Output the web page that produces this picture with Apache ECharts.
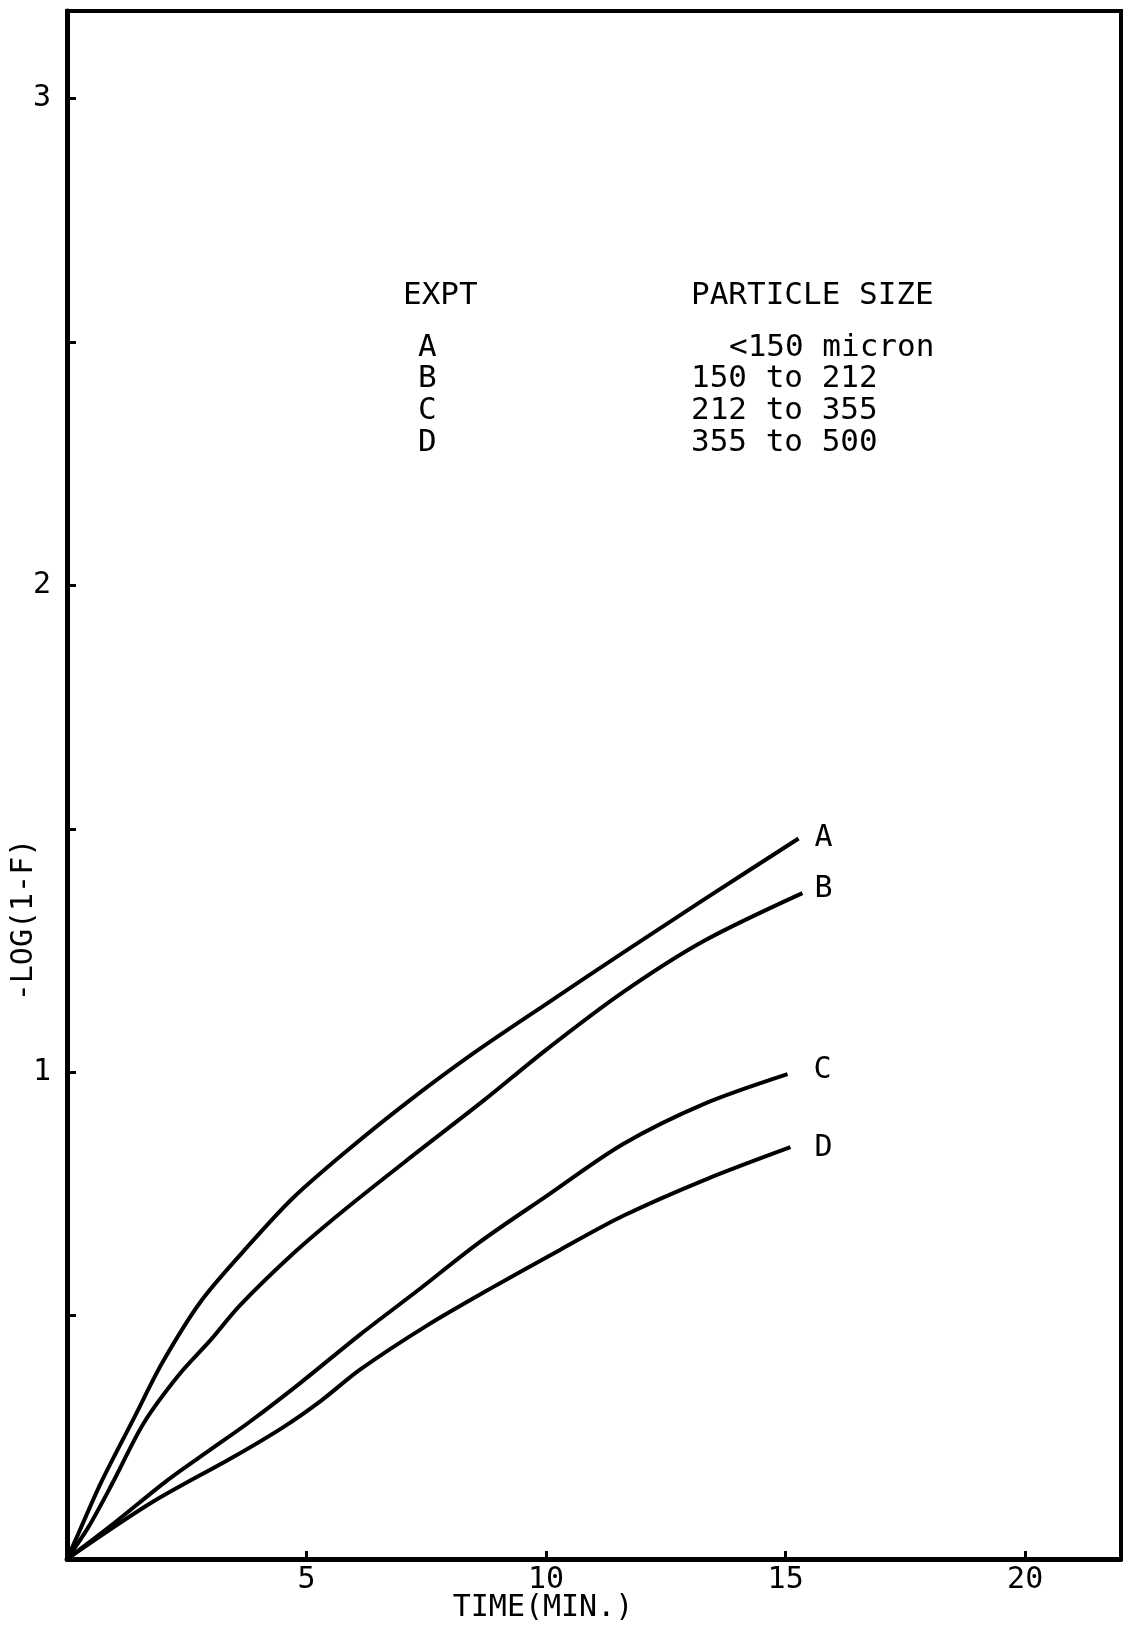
<!DOCTYPE html>
<html>
<head>
<meta charset="utf-8">
<script src="https://cdn.jsdelivr.net/npm/echarts@6/dist/echarts.min.js"></script>
<style>
  html, body { margin: 0; padding: 0; background: #fff; }
  #chart { width: 1123px; height: 1629px; }
</style>
</head>
<body>
<div id="chart"></div>
<script>
// ---- data ----
const seriesNames = ['A', 'B', 'C', 'D'];
const particleSizes = ['<150 micron', '150 to 212', '212 to 355', '355 to 500'];

const timeA = [0, 0.25, 0.7, 1.4, 2.0, 2.8, 3.7, 4.7, 5.8, 7.06, 8.5, 10.0, 11.6, 13.3, 15.27];
const valA  = [0, 0.055, 0.155, 0.29, 0.405, 0.53, 0.634, 0.74, 0.835, 0.935, 1.04, 1.14, 1.245, 1.355, 1.48];

const timeB = [0, 0.45, 0.95, 1.6, 2.35, 3.0, 3.6, 4.75, 5.8, 7.17, 8.7, 10.0, 11.6, 13.3, 15.35];
const valB  = [0, 0.066, 0.156, 0.279, 0.38, 0.45, 0.52, 0.63, 0.718, 0.825, 0.942, 1.046, 1.164, 1.27, 1.368];

const timeC = [0, 1.0, 2.1, 3.0, 3.83, 4.9, 6.13, 7.3, 8.6, 10.0, 11.6, 13.3, 15.04];
const valC  = [0, 0.075, 0.162, 0.225, 0.283, 0.364, 0.462, 0.55, 0.65, 0.745, 0.852, 0.935, 0.996];

const timeD = [0, 1.75, 3.48, 4.5, 5.3, 6.13, 7.52, 8.9, 10.29, 11.61, 13.34, 15.1];
const valD  = [0, 0.115, 0.21, 0.27, 0.325, 0.39, 0.48, 0.559, 0.635, 0.705, 0.78, 0.846];

const xTicks = [5, 10, 15, 20];
const yTicks = [1, 2, 3];

// ---- chart ----
const FONT = '"DejaVu Sans Mono", monospace';
const zip = (xs, ys) => xs.map((x, i) => [x, ys[i]]);
const allTimes = [timeA, timeB, timeC, timeD];
const allVals = [valA, valB, valC, valD];
const labelOffsets = [[16, 0], [12, -4], [26, -4], [24, 1]];

const chart = echarts.init(document.getElementById('chart'), null, { renderer: 'canvas' });

const series = seriesNames.map((name, i) => ({
  name: name,
  type: 'line',
  data: zip(allTimes[i], allVals[i]),
  smooth: 0.3,
  showSymbol: false,
  symbol: 'none',
  lineStyle: { color: '#000', width: 4 },
  endLabel: {
    show: true,
    formatter: '{a}',
    color: '#000',
    fontFamily: FONT,
    fontSize: 30,
    distance: 0,
    offset: labelOffsets[i]
  },
  z: 3
}));

const LF = '31px ' + FONT;
const legendGraphics = [];
legendGraphics.push({ type: 'text', left: 403, top: 280, style: { text: 'EXPT', font: LF, fill: '#000' } });
legendGraphics.push({ type: 'text', left: 691, top: 280, style: { text: 'PARTICLE SIZE', font: LF, fill: '#000' } });
seriesNames.forEach((n, i) => {
  const y = 332 + i * 31.7;
  legendGraphics.push({ type: 'text', left: 418, top: y, style: { text: n, font: LF, fill: '#000' } });
  legendGraphics.push({ type: 'text', left: i === 0 ? 729 : 691, top: y, style: { text: particleSizes[i], font: LF, fill: '#000' } });
});

chart.setOption({
  animation: false,
  backgroundColor: '#fff',
  grid: {
    left: 67, right: 2, top: 11, bottom: 70,
    outerBoundsMode: 'none',
    containLabel: false,
    show: true, borderColor: '#000', borderWidth: 4, backgroundColor: 'transparent'
  },
  xAxis: {
    type: 'value',
    min: 0, max: 22, interval: 5,
    name: 'TIME(MIN.)',
    nameLocation: 'middle',
    nameGap: 34,
    nameMoveOverlap: false,
    nameTextStyle: { color: '#000', fontFamily: FONT, fontSize: 30, verticalAlign: 'top', padding: [0, 102, 0, 0] },
    axisLine: { show: true, onZero: false, lineStyle: { color: '#000', width: 5 } },
    axisTick: { show: true, inside: true, length: 8, lineStyle: { color: '#000', width: 3 } },
    axisLabel: {
      color: '#000', fontFamily: FONT, fontSize: 30, margin: 6,
      formatter: v => (xTicks.indexOf(v) >= 0 ? String(v) : '')
    },
    splitLine: { show: false }
  },
  yAxis: {
    type: 'value',
    min: 0, max: 3.18, interval: 0.5,
    name: '-LOG(1-F)',
    nameLocation: 'middle',
    nameGap: 28,
    nameMoveOverlap: false,
    nameRotate: 90,
    nameTextStyle: { color: '#000', fontFamily: FONT, fontSize: 30, padding: [0, 270, 0, 0] },
    axisLine: { show: true, onZero: false, lineStyle: { color: '#000', width: 5 } },
    axisTick: { show: true, inside: true, length: 9, lineStyle: { color: '#000', width: 3 } },
    axisLabel: {
      color: '#000', fontFamily: FONT, fontSize: 30, margin: 16,
      formatter: v => (yTicks.indexOf(v) >= 0 ? String(v) : '')
    },
    splitLine: { show: false }
  },
  series: series,
  graphic: legendGraphics
});
</script>
</body>
</html>
